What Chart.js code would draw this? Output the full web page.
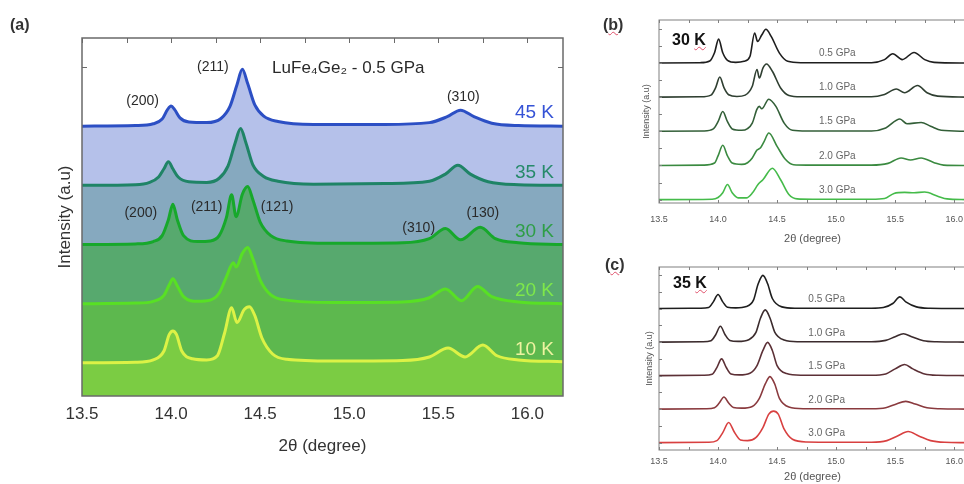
<!DOCTYPE html>
<html>
<head>
<meta charset="utf-8">
<script src="https://cdn.jsdelivr.net/npm/chart.js@4.4.1/dist/chart.umd.min.js"></script>
<style>
  html, body { margin: 0; padding: 0; background: #fff; overflow: hidden; width: 964px; height: 484px; }
  canvas { position: absolute; }
  .tag { position: absolute; font: bold 16px "Liberation Sans", Arial, sans-serif; color: #333; line-height: 18px; z-index: 2; }
  .wavy { text-decoration: underline wavy #e0506a; text-decoration-thickness: 1px; }
</style>
</head>
<body>
<canvas id="chartA" width="600" height="484" style="left:0;top:0"></canvas>
<canvas id="chartB" width="380" height="250" style="left:600px;top:0"></canvas>
<canvas id="chartC" width="380" height="234" style="left:600px;top:250px"></canvas>
<div class="tag" style="left:10px;top:16px">(a)</div>
<div class="tag" style="left:603px;top:16px">(<span class="wavy">b</span>)</div>
<div class="tag" style="left:605px;top:256px">(<span class="wavy">c</span>)</div>
<div class="tag" style="left:672px;top:31px;color:#111">30 <span class="wavy">K</span></div>
<div class="tag" style="left:673px;top:274px;color:#111">35 <span class="wavy">K</span></div>
<script>
// ---- panel (a): LuFe4Ge2 at 0.5 GPa, [2theta, intensity above baseline]
const a10K = [[13.5,0],[13.8,0.01],[13.9,0.05],[13.96,0.2],[13.99,0.48],[14.01,0.54],[14.03,0.48],[14.06,0.2],[14.12,0.07],[14.2,0.05],[14.26,0.12],[14.3,0.5],[14.34,0.93],[14.37,0.68],[14.41,0.9],[14.44,0.95],[14.47,0.8],[14.51,0.42],[14.57,0.15],[14.65,0.06],[14.9,0.03],[15.3,0.04],[15.45,0.1],[15.555,0.25],[15.65,0.1],[15.75,0.3],[15.83,0.12],[15.95,0.05],[16.2,0.02]];
const a20K = [[13.5,0],[13.8,0.01],[13.9,0.04],[13.96,0.14],[13.99,0.32],[14.01,0.42],[14.035,0.3],[14.07,0.12],[14.15,0.04],[14.22,0.06],[14.27,0.18],[14.31,0.45],[14.35,0.69],[14.365,0.62],[14.4,0.85],[14.43,0.95],[14.46,0.75],[14.5,0.4],[14.56,0.15],[14.65,0.06],[14.9,0.02],[15.3,0.03],[15.45,0.1],[15.54,0.25],[15.63,0.05],[15.72,0.29],[15.8,0.12],[15.95,0.03],[16.2,0]];
const a30K = [[13.5,0],[13.8,0.01],[13.9,0.05],[13.95,0.15],[13.985,0.42],[14.01,0.68],[14.035,0.42],[14.07,0.15],[14.15,0.05],[14.22,0.06],[14.27,0.15],[14.31,0.45],[14.34,0.84],[14.365,0.47],[14.4,0.85],[14.43,0.98],[14.46,0.75],[14.5,0.38],[14.56,0.15],[14.65,0.06],[14.9,0.02],[15.3,0.03],[15.45,0.1],[15.54,0.27],[15.625,0.08],[15.735,0.29],[15.82,0.1],[15.95,0.03],[16.2,0]];
const a35K = [[13.5,0],[13.8,0.01],[13.88,0.05],[13.93,0.14],[13.96,0.28],[13.985,0.4],[14.01,0.28],[14.04,0.14],[14.1,0.06],[14.2,0.05],[14.27,0.12],[14.32,0.33],[14.36,0.72],[14.39,0.96],[14.42,0.72],[14.46,0.34],[14.52,0.15],[14.6,0.07],[14.8,0.02],[15.2,0.03],[15.45,0.07],[15.54,0.19],[15.61,0.34],[15.68,0.19],[15.78,0.06],[15.95,0.01],[16.2,0]];
const a45K = [[13.5,0],[13.8,0.01],[13.9,0.04],[13.95,0.12],[13.98,0.28],[14.0,0.34],[14.02,0.28],[14.05,0.14],[14.1,0.07],[14.2,0.06],[14.28,0.13],[14.33,0.33],[14.37,0.7],[14.4,0.96],[14.43,0.72],[14.47,0.36],[14.52,0.17],[14.6,0.08],[14.8,0.03],[15.2,0.03],[15.45,0.06],[15.55,0.16],[15.625,0.27],[15.7,0.16],[15.8,0.05],[15.95,0.01],[16.2,0]];
const aTemps = ["10 K", "20 K", "30 K", "35 K", "45 K"];
const aOffsets = [0, 1, 2, 3, 4];
const aHkl = ["(200)", "(211)", "(310)", "(200)", "(211)", "(121)", "(310)", "(130)"];
const aHklX = [13.84, 14.235, 15.64, 13.83, 14.2, 14.595, 15.39, 15.75];
const aHklY = [4.42, 5.0, 4.49, 2.53, 2.63, 2.63, 2.28, 2.53];

// ---- panel (b): 30 K, pressure series
const b05 = [[13.5,0],[13.85,0.01],[13.93,0.06],[13.97,0.3],[14.005,0.7],[14.04,0.3],[14.08,0.08],[14.15,0.02],[14.22,0.05],[14.27,0.19],[14.31,0.88],[14.335,0.63],[14.37,0.82],[14.405,0.99],[14.45,0.78],[14.52,0.29],[14.59,0.05],[14.7,0.01],[15.3,0.01],[15.41,0.1],[15.48,0.27],[15.56,0.1],[15.66,0.31],[15.75,0.1],[15.83,0.02],[16.1,0]];
const b10 = [[13.5,0],[13.85,0.01],[13.94,0.06],[13.98,0.28],[14.015,0.59],[14.05,0.28],[14.09,0.07],[14.16,0.02],[14.23,0.06],[14.29,0.32],[14.33,0.81],[14.35,0.56],[14.38,0.85],[14.41,0.97],[14.46,0.76],[14.53,0.27],[14.6,0.05],[14.7,0.01],[15.3,0.01],[15.41,0.08],[15.51,0.24],[15.58,0.13],[15.69,0.34],[15.77,0.13],[15.86,0.03],[16.1,0]];
const b15 = [[13.5,0],[13.88,0.01],[13.96,0.07],[14.0,0.28],[14.04,0.58],[14.08,0.28],[14.12,0.07],[14.2,0.03],[14.25,0.08],[14.29,0.24],[14.33,0.65],[14.35,0.73],[14.37,0.66],[14.43,0.94],[14.49,0.73],[14.56,0.24],[14.63,0.03],[14.75,0.01],[15.3,0.01],[15.42,0.1],[15.54,0.36],[15.6,0.22],[15.72,0.26],[15.8,0.15],[15.89,0.03],[16.1,0]];
const b20 = [[13.5,0],[13.88,0.01],[13.97,0.07],[14.0,0.28],[14.04,0.59],[14.08,0.28],[14.12,0.07],[14.2,0.03],[14.25,0.08],[14.29,0.22],[14.33,0.45],[14.36,0.52],[14.39,0.7],[14.43,0.95],[14.5,0.56],[14.57,0.18],[14.64,0.02],[14.75,0.01],[15.3,0.01],[15.44,0.06],[15.55,0.22],[15.63,0.16],[15.72,0.22],[15.83,0.08],[15.91,0.01],[16.1,0]];
const b30 = [[13.5,0],[13.95,0.01],[14.0,0.06],[14.04,0.2],[14.08,0.44],[14.12,0.2],[14.17,0.05],[14.24,0.05],[14.29,0.19],[14.34,0.45],[14.38,0.58],[14.46,0.92],[14.53,0.58],[14.6,0.15],[14.67,0.02],[14.8,0.01],[15.3,0.01],[15.41,0.03],[15.49,0.18],[15.58,0.21],[15.66,0.2],[15.75,0.22],[15.86,0.1],[15.94,0.02],[16.1,0]];

// ---- panel (c): 35 K, pressure series
const c05 = [[13.5,0],[13.85,0.01],[13.92,0.03],[13.96,0.2],[14.0,0.42],[14.04,0.2],[14.08,0.04],[14.15,0.02],[14.24,0.06],[14.3,0.25],[14.34,0.74],[14.38,0.99],[14.42,0.74],[14.46,0.3],[14.54,0.05],[14.65,0.01],[15.3,0.01],[15.4,0.03],[15.48,0.15],[15.54,0.35],[15.59,0.2],[15.68,0.05],[15.79,0.01],[16.1,0]];
const c10 = [[13.5,0],[13.87,0.01],[13.94,0.04],[13.98,0.22],[14.02,0.47],[14.06,0.22],[14.1,0.05],[14.17,0.02],[14.26,0.07],[14.32,0.28],[14.36,0.72],[14.4,0.96],[14.44,0.72],[14.48,0.3],[14.56,0.06],[14.67,0.01],[15.3,0.01],[15.42,0.05],[15.5,0.16],[15.57,0.25],[15.64,0.16],[15.74,0.04],[15.85,0.01],[16.1,0]];
const c15 = [[13.5,0],[13.88,0.01],[13.95,0.04],[13.99,0.24],[14.03,0.5],[14.07,0.24],[14.11,0.05],[14.18,0.02],[14.27,0.07],[14.33,0.3],[14.38,0.75],[14.42,0.99],[14.46,0.75],[14.5,0.3],[14.58,0.06],[14.7,0.01],[15.3,0.01],[15.42,0.05],[15.5,0.2],[15.58,0.33],[15.65,0.2],[15.75,0.05],[15.86,0.01],[16.1,0]];
const c20 = [[13.5,0],[13.9,0.01],[13.97,0.04],[14.01,0.18],[14.05,0.36],[14.09,0.18],[14.13,0.05],[14.2,0.03],[14.29,0.08],[14.35,0.32],[14.4,0.75],[14.44,0.97],[14.48,0.75],[14.52,0.32],[14.6,0.06],[14.72,0.01],[15.3,0.01],[15.42,0.04],[15.5,0.14],[15.59,0.23],[15.67,0.15],[15.77,0.04],[15.88,0.01],[16.1,0]];
const c30 = [[13.5,0],[13.92,0.01],[13.99,0.06],[14.04,0.3],[14.09,0.6],[14.14,0.3],[14.19,0.08],[14.25,0.06],[14.32,0.15],[14.38,0.45],[14.43,0.85],[14.47,0.94],[14.51,0.85],[14.56,0.4],[14.63,0.1],[14.75,0.02],[15.3,0.01],[15.43,0.06],[15.52,0.2],[15.61,0.33],[15.7,0.2],[15.8,0.06],[15.92,0.01],[16.1,0]];

const pressures = ["0.5 GPa", "1.0 GPa", "1.5 GPa", "2.0 GPa", "3.0 GPa"];
const pOffsets = [4, 3, 2, 1, 0];

Chart.defaults.font.family = '"Liberation Sans", Arial, sans-serif';

function toPoints(curve, offset) {
  return curve.map(p => ({ x: p[0], y: p[1] + offset }));
}

function halfStep(v) {
  return Math.abs(v * 2 - Math.round(v * 2)) < 1e-6;
}

// frame, inward tick marks and text labels
function decor(o) {
  function ticks(chart) {
    const { ctx, chartArea: a, scales: { x, y } } = chart;
    ctx.save();
    ctx.strokeStyle = o.frame;
    ctx.lineWidth = 1;
    ctx.beginPath();
    const majors = x.ticks.map(t => t.value).filter(halfStep);
    const xs = [];
    majors.forEach(v => { xs.push(v); if (v + 0.25 <= x.max) xs.push(v + 0.25); });
    if (majors.length && majors[0] - 0.25 >= x.min) xs.push(majors[0] - 0.25);
    xs.forEach(v => {
      const px = Math.round(x.getPixelForValue(v)) + 0.5;
      ctx.moveTo(px, a.top); ctx.lineTo(px, a.top + o.tick);
      ctx.moveTo(px, a.bottom); ctx.lineTo(px, a.bottom - o.tick);
    });
    y.ticks.map(t => t.value).filter(v => Math.abs(v / o.yStep - Math.round(v / o.yStep)) < 1e-6).forEach(v => {
      const py = Math.round(y.getPixelForValue(v)) + 0.5;
      ctx.moveTo(a.left, py); ctx.lineTo(a.left + o.tick, py);
      if (o.rightTicks) { ctx.moveTo(a.right, py); ctx.lineTo(a.right - o.tick, py); }
    });
    ctx.stroke();
    ctx.restore();
  }
  return {
    id: 'decor',
    beforeDatasetsDraw(chart) { if (o.ticksUnder) ticks(chart); },
    afterDatasetsDraw(chart) {
      const { ctx, chartArea: a, scales: { x, y } } = chart;
      if (!o.ticksUnder) ticks(chart);
      ctx.save();
      ctx.strokeStyle = o.frame;
      ctx.lineWidth = o.frameWidth;
      ctx.strokeRect(a.left, a.top, a.right - a.left, a.bottom - a.top);
      ctx.textBaseline = 'middle';
      o.labels.forEach(l => {
        ctx.font = l.font;
        ctx.fillStyle = l.color;
        ctx.textAlign = l.align || 'center';
        ctx.fillText(l.text, x.getPixelForValue(l.x), y.getPixelForValue(l.y));
      });
      ctx.restore();
    }
  };
}

function makeChart(id, c) {
  return new Chart(document.getElementById(id), {
    type: 'line',
    data: { datasets: c.datasets },
    options: {
      responsive: false,
      animation: false,
      devicePixelRatio: 1,
      layout: { padding: c.padding },
      plugins: { legend: { display: false }, tooltip: { enabled: false } },
      scales: {
        x: {
          type: 'linear', min: c.xMin, max: c.xMax,
          grid: { display: false, drawTicks: false }, border: { display: false },
          ticks: {
            stepSize: 0.5, includeBounds: false, autoSkip: false, maxRotation: 0, padding: c.tickPad,
            font: { size: c.tickSize }, color: c.textColor,
            callback: v => halfStep(v) ? v.toFixed(1) : ''
          },
          title: { display: true, text: '2θ (degree)', font: { size: c.titleSize }, color: c.textColor, padding: { top: 0, bottom: c.xTitlePad } },
          afterFit: s => { s.height = c.xHeight; }
        },
        y: {
          type: 'linear', min: c.yMin, max: c.yMax,
          grid: { display: false, drawTicks: false }, border: { display: false },
          ticks: { display: false, stepSize: c.yStep, includeBounds: false },
          title: { display: true, text: 'Intensity (a.u)', font: { size: c.yTitleSize }, color: c.textColor, padding: { top: c.yTitlePad, bottom: 0 } },
          afterFit: s => { s.width = c.yWidth; }
        }
      }
    },
    plugins: [decor(c.decor)]
  });
}

// panel (a)
const aCurves = [a10K, a20K, a30K, a35K, a45K];
const aLines = ['#dcf246', '#58e024', '#17a82b', '#1f8466', '#2c4fc4'];
const aFills = ['#7bcc43', '#5db84e', '#57a96e', '#86a9bf', '#b5c1ea'];
const aTempColors = ['#eef3a0', '#7ee84a', '#2e9e46', '#268a6a', '#3552d6'];
const aLabels = aHkl.map((t, i) => ({ text: t, x: aHklX[i], y: aHklY[i], font: '14px "Liberation Sans", Arial, sans-serif', color: '#2a2a2a' }));
aTemps.forEach((t, i) => aLabels.push({ text: t, x: 16.04, y: aOffsets[i] + 0.22, font: '19px "Liberation Sans", Arial, sans-serif', color: aTempColors[i] }));
aLabels.push({ text: 'LuFe₄Ge₂ - 0.5 GPa', x: 14.567, y: 4.98, align: 'left', font: '17px "Liberation Sans", Arial, sans-serif', color: '#2a2a2a' });

makeChart('chartA', {
  datasets: aCurves.map((cv, i) => ({
    data: toPoints(cv, aOffsets[i]),
    borderColor: aLines[i], borderWidth: 3,
    backgroundColor: aFills[i], fill: 'start',
    pointRadius: 0, cubicInterpolationMode: 'monotone'
  })),
  padding: { top: 38, right: 37, left: 0, bottom: 0 },
  xMin: 13.5, xMax: 16.2, yMin: -0.56, yMax: 5.49, yStep: 1,
  tickPad: 8, tickSize: 17, titleSize: 17, xTitlePad: 27.8, xHeight: 88,
  yTitleSize: 17, yTitlePad: 54.8, yWidth: 82, textColor: '#333',
  decor: { frame: '#6a6a6a', frameWidth: 1.5, tick: 5, yStep: 1, ticksUnder: true, rightTicks: true, labels: aLabels }
});

// panels (b) and (c)
function pressureSets(curves, colors) {
  return curves.map((cv, i) => ({
    data: toPoints(cv, pOffsets[i]),
    borderColor: colors[i], borderWidth: 1.6, fill: false,
    pointRadius: 0, cubicInterpolationMode: 'monotone'
  }));
}
const pFont = '10px "Liberation Sans", Arial, sans-serif';

makeChart('chartB', {
  datasets: pressureSets([b05, b10, b15, b20, b30], ['#1e1e1e', '#2f3f31', '#335f38', '#3a8a40', '#45bb4a']),
  padding: { top: 20, right: 14, left: 0, bottom: 0 },
  xMin: 13.5, xMax: 16.1, yMin: -0.1, yMax: 5.26, yStep: 0.5,
  tickPad: 11, tickSize: 9, titleSize: 11, xTitlePad: 4.4, xHeight: 47,
  yTitleSize: 9, yTitlePad: 41.6, yWidth: 59, textColor: '#555',
  decor: { frame: '#808080', frameWidth: 1, tick: 3, yStep: 0.5, ticksUnder: false, rightTicks: false,
    labels: pressures.map((t, i) => ({ text: t, x: 15.01, y: pOffsets[i] + 0.28, font: pFont, color: '#666' })) }
});

makeChart('chartC', {
  datasets: pressureSets([c05, c10, c15, c20, c30], ['#1e1e1e', '#3b2b2d', '#5c3036', '#8a3a3e', '#d84040']),
  padding: { top: 17, right: 14, left: 0, bottom: 0 },
  xMin: 13.5, xMax: 16.1, yMin: -0.22, yMax: 5.24, yStep: 0.5,
  tickPad: 6, tickSize: 9, titleSize: 11, xTitlePad: 0, xHeight: 34,
  yTitleSize: 9, yTitlePad: 44.6, yWidth: 59, textColor: '#555',
  decor: { frame: '#808080', frameWidth: 1, tick: 3, yStep: 0.5, ticksUnder: false, rightTicks: false,
    labels: pressures.map((t, i) => ({ text: t, x: 14.92, y: pOffsets[i] + 0.27, font: pFont, color: '#666' })) }
});
</script>
</body>
</html>
